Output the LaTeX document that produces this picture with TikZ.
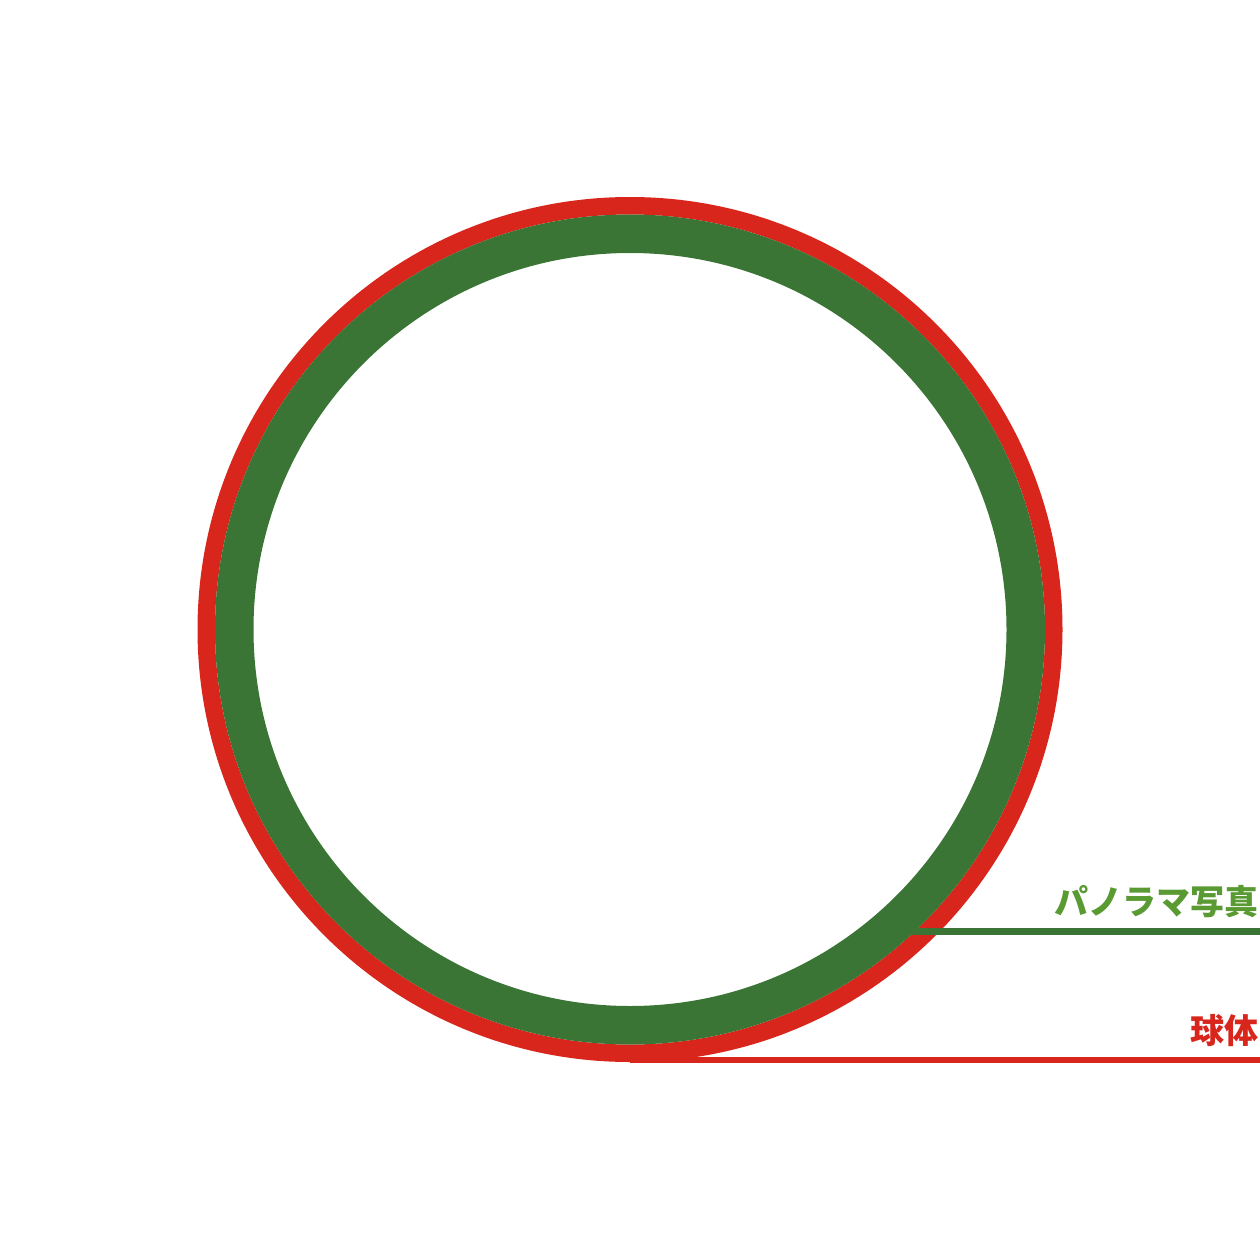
\documentclass[tikz,border=0pt]{standalone}
\usepackage{fontspec}
\newfontfamily\cjk{Noto Sans CJK JP}
\definecolor{ringred}{HTML}{D9261C}
\definecolor{ringgreen}{HTML}{3B7536}
\definecolor{labelgreen}{HTML}{5A9A32}
\begin{document}
\begin{tikzpicture}[x=1pt,y=-1pt,
  lbl/.style={inner sep=0pt,anchor=base east,font=\cjk\bfseries\fontsize{34}{40}\selectfont}]
\useasboundingbox (0,0) rectangle (1260,1260);
\coordinate (c) at (630,629.5);
% sphere ring (red)
\draw[ringred,line width=17.5pt] (c) circle[radius=423.75];
% panorama ring (green)
\draw[ringgreen,line width=38.5pt] (c) circle[radius=395.75];
% leader lines
\coordinate (gstart) at (886,931.5);
\coordinate (gend) at (1260,931.5);
\coordinate (rstart) at (630,1060);
\coordinate (rend) at (1260,1060);
\draw[ringgreen,line width=6.5pt] (gstart) -- (gend);
\draw[ringred,line width=6pt] (rstart) -- (rend);
% labels
\node[lbl,text=labelgreen] (pano) at (1259,914.5) {パノラマ写真};
\node[lbl,text=ringred] (sphere) at (1259,1043) {球体};
\end{tikzpicture}
\end{document}
